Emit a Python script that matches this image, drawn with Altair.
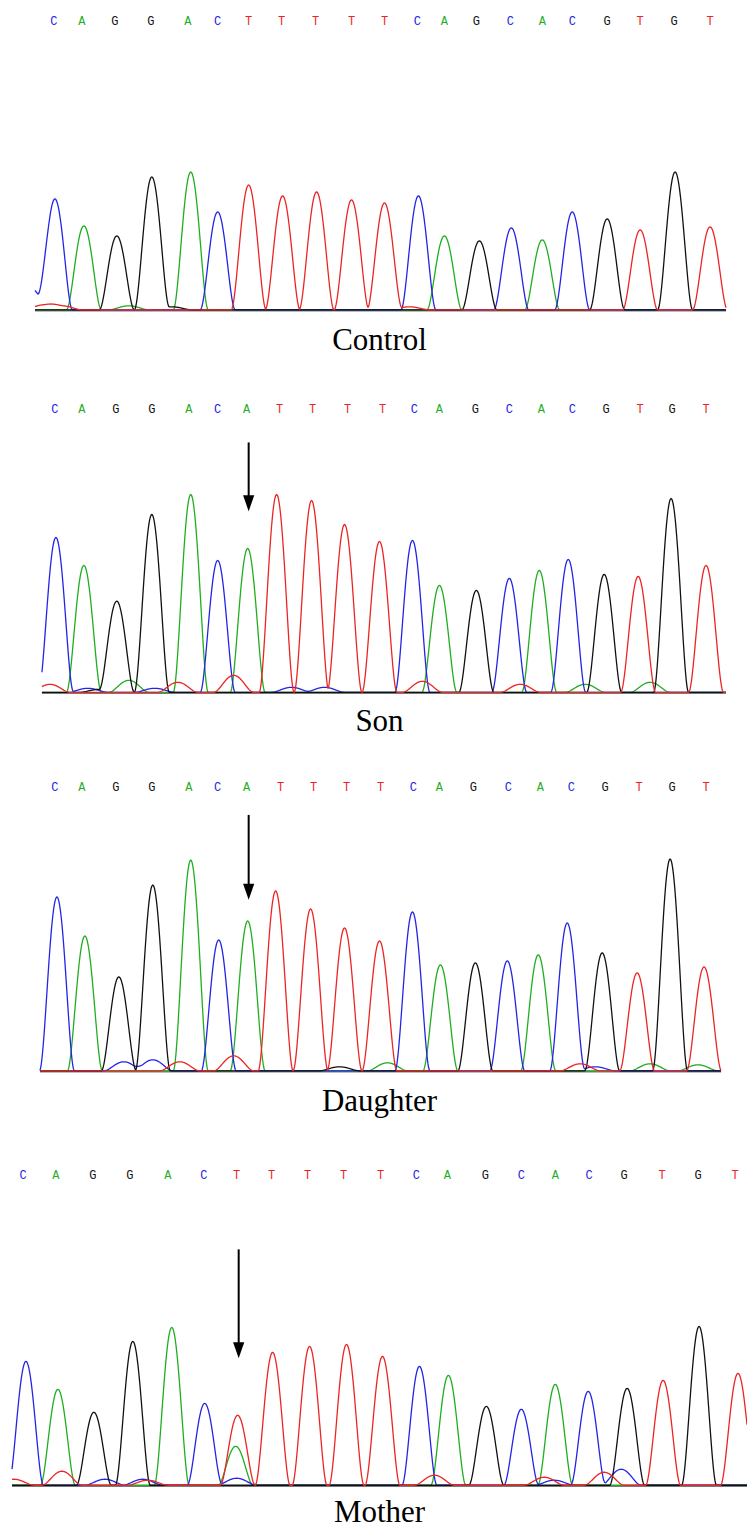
import altair as alt
import numpy as np
import pandas as pd

# ---------------- data ----------------
bases = ["A", "C", "G", "T"]
trace_colors = ["#1fae1f", "#2424e6", "#111111", "#ec2424"]
letter_colors = ["#49c049", "#4848d4", "#4a4a4a", "#e44a4a"]

# Control
control_calls = list("CAGGACTTTTTCAGCACGTGT")
control_call_x = [54, 82, 115, 151, 188, 218, 249, 282, 316, 352, 385, 418, 445, 477, 511, 543, 573, 608, 641, 675, 711]
control_peak_base = list("CAGGACTTTTTCAGCACGTGT")
control_peak_x = [55, 84, 117, 152, 191, 218, 249, 283, 317, 352, 385, 419, 445, 480, 512, 543, 573, 608, 641, 676, 711]
control_peak_h = [111, 84, 74, 133, 138, 98, 125, 114, 118, 110, 107, 114, 74, 69, 82, 70, 98, 91, 80, 138, 83]
control_minor_base = ["C", "T", "T", "A", "G", "T"]
control_minor_x = [30, 44, 62, 129, 172, 410]
control_minor_h = [22, 5, 4, 4, 3, 3]

# Son
son_calls = list("CAGGACATTTTCAGCACGTGT")
son_call_x = [55, 82, 116, 152, 189, 218, 247, 280, 313, 348, 383, 415, 440, 476, 510, 542, 573, 607, 641, 673, 707]
son_peak_base = list("CAGGACATTTTCAGCACGTGT")
son_peak_x = [56, 84, 117, 152, 191, 218, 248, 277, 312, 345, 380, 413, 440, 477, 510, 540, 569, 605, 639, 672, 707]
son_peak_h = [155, 127, 91, 178, 198, 132, 144, 198, 192, 168, 151, 152, 107, 102, 114, 122, 133, 118, 116, 194, 127]
son_minor_base = ["T", "T", "T", "G", "C", "C", "T", "T", "A", "A", "A", "C", "C"]
son_minor_x = [50, 178, 234, 100, 88, 155, 423, 521, 586, 651, 129, 292, 325]
son_minor_h = [8, 10, 17, 3, 4, 4, 11, 8, 8, 10, 12, 5, 5]

# Daughter
daughter_calls = list("CAGGACATTTTCAGCACGTGT")
daughter_call_x = [55, 82, 116, 152, 189, 218, 247, 281, 314, 347, 381, 414, 440, 474, 509, 541, 572, 606, 640, 673, 707]
daughter_peak_base = list("CAGGACATTTTCAGCACGTGT")
daughter_peak_x = [57, 85, 119, 153, 191, 219, 248, 276, 311, 345, 380, 413, 441, 476, 508, 539, 568, 603, 638, 671, 705]
daughter_peak_h = [174, 135, 94, 186, 211, 131, 150, 180, 162, 143, 130, 159, 106, 108, 110, 116, 148, 118, 98, 212, 104]
daughter_minor_base = ["T", "T", "C", "C", "A", "T", "A", "A", "C", "G"]
daughter_minor_x = [234, 180, 124, 153, 388, 581, 651, 699, 596, 340]
daughter_minor_h = [15, 9, 9, 11, 8, 7, 7, 6, 4, 4]

# Mother
mother_calls = list("CAGGACTTTTTCAGCACGTGT")
mother_call_x = [23, 56, 93, 130, 168, 204, 237, 272, 308, 344, 381, 417, 448, 486, 522, 556, 590, 625, 663, 699, 736]
mother_peak_base = list("CAGGACTTTTTCAGCACGTGTA")
mother_peak_x = [26, 58, 94, 133, 172, 205, 238, 273, 310, 347, 383, 420, 449, 487, 522, 556, 589, 628, 664, 700, 739, 236]
mother_peak_h = [124, 96, 73, 144, 158, 82, 70, 133, 139, 141, 129, 119, 110, 79, 76, 101, 94, 97, 105, 159, 112, 39]
mother_minor_base = ["T", "T", "C", "C", "T", "C", "T", "T", "T", "C", "C"]
mother_minor_x = [62, 14, 105, 143, 148, 237, 435, 545, 605, 622, 555]
mother_minor_h = [14, 6, 6, 6, 5, 7, 10, 8, 13, 16, 5]

panel_names = ["Control", "Son", "Daughter", "Mother"]

# ---------------- geometry (page pixels) ----------------
W = 748
panels = [
    dict(top=0, h=370, base=310, x0=35, x1=727, letters=20, label=349, arrow=None),
    dict(top=370, h=385, base=693, x0=42, x1=727, letters=409, label=731, arrow=(249, 442, 503)),
    dict(top=755, h=385, base=1072, x0=40, x1=722, letters=787, label=1111, arrow=(249, 815, 892)),
    dict(top=1140, h=386, base=1487, x0=12, x1=748, letters=1176, label=1523, arrow=(239, 1250, 1351)),
]

all_data = [
    (control_calls, control_call_x, control_peak_base, control_peak_x, control_peak_h,
     control_minor_base, control_minor_x, control_minor_h),
    (son_calls, son_call_x, son_peak_base, son_peak_x, son_peak_h,
     son_minor_base, son_minor_x, son_minor_h),
    (daughter_calls, daughter_call_x, daughter_peak_base, daughter_peak_x, daughter_peak_h,
     daughter_minor_base, daughter_minor_x, daughter_minor_h),
    (mother_calls, mother_call_x, mother_peak_base, mother_peak_x, mother_peak_h,
     mother_minor_base, mother_minor_x, mother_minor_h),
]

HALF_MAJOR = 17.5
HALF_MINOR = 20.0


def bump(xs, p, h, w):
    u = np.clip((xs - p) / w, -1, 1)
    return h * (1 - u ** 2) ** 2


def build_trace(geo, pb, px, ph, mb, mx, mh):
    xs = np.arange(geo["x0"], geo["x1"] + 0.01, 0.5)
    rows = []
    for b in bases:
        s = np.zeros_like(xs) + 0.8
        for bb, p, h in zip(pb, px, ph):
            if bb == b:
                s += bump(xs, p, h, HALF_MAJOR)
        for bb, p, h in zip(mb, mx, mh):
            if bb == b:
                s += bump(xs, p, h, HALF_MINOR)
        rows.append(pd.DataFrame({"x": xs, "signal": s, "base": b}))
    return pd.concat(rows, ignore_index=True)


color_scale = alt.Scale(domain=bases, range=trace_colors)
letter_scale = alt.Scale(domain=bases, range=letter_colors)

charts = []
for name, geo, d in zip(panel_names, panels, all_data):
    calls, call_x, pb, px, ph, mb, mx, mh = d
    top, H, B = geo["top"], geo["h"], geo["base"]
    lo, hi = B - (top + H), B - top
    xs = alt.Scale(domain=[0, W], nice=False, zero=False)
    ys = alt.Scale(domain=[lo, hi], nice=False, zero=False)

    def lvl(abs_y):
        return B - abs_y

    trace = build_trace(geo, pb, px, ph, mb, mx, mh)

    baseline = alt.Chart(pd.DataFrame({"x": [geo["x0"]], "x2": [geo["x1"]], "signal": [0]})).mark_rule(
        color="#7a7a7a", strokeWidth=2
    ).encode(
        x=alt.X("x:Q", scale=xs, axis=None),
        x2="x2:Q",
        y=alt.Y("signal:Q", scale=ys, axis=None),
    )

    lines = alt.Chart(trace).mark_line(strokeWidth=1.3, clip=True).encode(
        x=alt.X("x:Q", scale=xs, axis=None),
        y=alt.Y("signal:Q", scale=ys, axis=None),
        color=alt.Color("base:N", scale=color_scale, legend=None),
        detail="base:N",
        order="x:Q",
    )

    letters_df = pd.DataFrame({"x": call_x, "call": calls, "signal": [lvl(geo["letters"])] * len(calls)})
    letters = alt.Chart(letters_df).mark_text(
        font="Liberation Mono", fontSize=12, baseline="middle", align="center"
    ).encode(
        x=alt.X("x:Q", scale=xs, axis=None),
        y=alt.Y("signal:Q", scale=ys, axis=None),
        text="call:N",
        color=alt.Color("call:N", scale=letter_scale, legend=None),
    )

    label_df = pd.DataFrame({"x": [380], "signal": [lvl(geo["label"])], "t": [name]})
    label = alt.Chart(label_df).mark_text(
        font="Liberation Serif", fontSize=31, baseline="alphabetic", align="center", color="#000000"
    ).encode(
        x=alt.X("x:Q", scale=xs, axis=None),
        y=alt.Y("signal:Q", scale=ys, axis=None),
        text="t:N",
    )

    layers = [baseline, lines, letters, label]

    if geo["arrow"] is not None:
        ax, atop, ahead = geo["arrow"]
        rule_df = pd.DataFrame({"x": [ax], "s1": [lvl(atop)], "s2": [lvl(ahead - 4)]})
        shaft = alt.Chart(rule_df).mark_rule(color="#000000", strokeWidth=2).encode(
            x=alt.X("x:Q", scale=xs, axis=None),
            y=alt.Y("s1:Q", scale=ys, axis=None),
            y2="s2:Q",
        )
        head_df = pd.DataFrame({"x": [ax], "s": [lvl(ahead)]})
        head = alt.Chart(head_df).mark_point(
            shape="M-0.7,-1L0.7,-1L0,1Z", filled=True, size=256, color="#000000", opacity=1
        ).encode(
            x=alt.X("x:Q", scale=xs, axis=None),
            y=alt.Y("s:Q", scale=ys, axis=None),
        )
        layers += [shaft, head]

    charts.append(alt.layer(*layers).properties(width=W, height=H))

chart = alt.vconcat(*charts, spacing=0).properties(padding=0, background="#ffffff").configure_view(
    strokeWidth=0
).configure_concat(spacing=0)

chart.save("out.html", embed_options={"renderer": "svg", "actions": False})
